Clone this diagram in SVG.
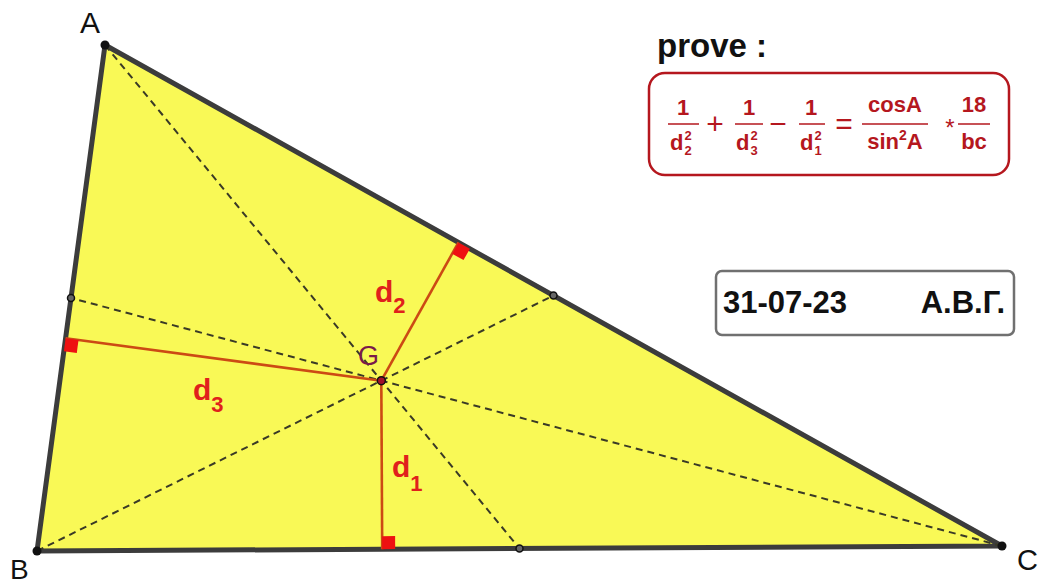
<svg xmlns="http://www.w3.org/2000/svg" width="1039" height="584" viewBox="0 0 1039 584">
<style>
.lbl{font-family:"Liberation Sans",Arial,sans-serif;fill:#111}
.f{font-family:"Liberation Sans",Arial,sans-serif;font-weight:bold;fill:#b5171e;font-size:22px}
.fs{font-family:"Liberation Sans",Arial,sans-serif;font-weight:bold;fill:#b5171e;font-size:13px}
.dl{font-family:"Liberation Sans",Arial,sans-serif;font-weight:bold;fill:#e0201c}
.med{stroke:#3a3a26;stroke-width:2;stroke-dasharray:7 5;fill:none}
.perp{stroke:#cc4a14;stroke-width:2.6;fill:none}
.ra{fill:#ee1111}
.bar{stroke:#b5171e;stroke-width:1.5}
</style>
<rect width="1039" height="584" fill="#ffffff"/>
<g id="triangle">
<polygon points="105,45 37,551 1002,546" fill="#f9f956" stroke="#3c3c3c" stroke-width="5" stroke-linejoin="round"/>
</g>
<g id="connectors">
<line class="med" x1="105" y1="45" x2="519.5" y2="548.5"/>
<line class="med" x1="37" y1="551" x2="553.5" y2="295.5"/>
<line class="med" x1="1002" y1="546" x2="71" y2="298"/>
<line class="perp" x1="381.3" y1="380.7" x2="382.2" y2="549.2"/>
<line class="perp" x1="381.3" y1="380.7" x2="458.5" y2="242.4"/>
<line class="perp" x1="381.3" y1="380.7" x2="65.6" y2="338.3"/>
<polygon class="ra" points="382.2,549.2 395.2,549.1 395.1,536.1 382.1,536.2"/>
<polygon class="ra" points="458.5,242.4 469.9,248.7 463.5,260.1 452.2,253.8"/>
<polygon class="ra" points="65.6,338.3 63.9,351.2 76.8,352.9 78.5,340"/>
</g>
<g id="points">
<circle cx="105" cy="45" r="4.5" fill="#111"/>
<circle cx="37" cy="551" r="4.5" fill="#111"/>
<circle cx="1002" cy="546" r="4.5" fill="#111"/>
<circle cx="71" cy="298" r="3.5" fill="#666" stroke="#111" stroke-width="1.5"/>
<circle cx="519.5" cy="548.5" r="3.5" fill="#666" stroke="#111" stroke-width="1.5"/>
<circle cx="553.5" cy="295.5" r="3.5" fill="#666" stroke="#111" stroke-width="1.5"/>
<circle cx="381.3" cy="380.7" r="4" fill="#a0102a" stroke="#111" stroke-width="1.5"/>
</g>
<g id="vertex-labels">
<text class="lbl" x="80" y="33" font-size="30">A</text>
<text class="lbl" x="10" y="579" font-size="28">B</text>
<text class="lbl" x="1017" y="570" font-size="29">C</text>
<text x="358" y="365" font-family="Liberation Sans,Arial,sans-serif" font-size="27" fill="#7a1a4a">G</text>
</g>
<g id="d-labels">
<text class="dl" x="375" y="302" font-size="30">d<tspan font-size="22" dy="11">2</tspan></text>
<text class="dl" x="193" y="400" font-size="30">d<tspan font-size="22" dy="12">3</tspan></text>
<text class="dl" x="392" y="477" font-size="30">d<tspan font-size="22" dy="14">1</tspan></text>
</g>
<g id="prove">
<text class="lbl" x="657" y="57" font-size="33" font-weight="bold">prove :</text>
</g>
<g id="formula">
<rect x="649" y="73" width="360" height="102" rx="16" fill="#ffffff" stroke="#b5171e" stroke-width="2.5"/>
<text class="f" x="683" y="115" text-anchor="middle">1</text>
<line class="bar" x1="668" y1="124" x2="699" y2="124"/>
<text class="f" x="670" y="150">d</text>
<text class="fs" x="684.5" y="140">2</text>
<text class="fs" x="684.5" y="155">2</text>
<text x="715" y="134" text-anchor="middle" font-family="Liberation Sans,Arial,sans-serif" font-size="30" fill="#b5171e">+</text>
<text class="f" x="749" y="115" text-anchor="middle">1</text>
<line class="bar" x1="735" y1="124" x2="763" y2="124"/>
<text class="f" x="736" y="150">d</text>
<text class="fs" x="750.5" y="140">2</text>
<text class="fs" x="750.5" y="155">3</text>
<text x="778" y="134" text-anchor="middle" font-family="Liberation Sans,Arial,sans-serif" font-size="30" fill="#b5171e">−</text>
<text class="f" x="811" y="115" text-anchor="middle">1</text>
<line class="bar" x1="799" y1="124" x2="825" y2="124"/>
<text class="f" x="800" y="150">d</text>
<text class="fs" x="814.5" y="140">2</text>
<text class="fs" x="814.5" y="155">1</text>
<text x="844" y="134" text-anchor="middle" font-family="Liberation Sans,Arial,sans-serif" font-size="30" fill="#b5171e">=</text>
<text class="f" x="895" y="112" text-anchor="middle">cosA</text>
<line class="bar" x1="862" y1="124" x2="928" y2="124"/>
<text class="f" x="895" y="149" text-anchor="middle">sin<tspan font-size="14" dy="-9">2</tspan><tspan dy="9">A</tspan></text>
<text x="950" y="136" text-anchor="middle" font-family="Liberation Sans,Arial,sans-serif" font-size="24" fill="#b5171e">*</text>
<text class="f" x="974" y="112" text-anchor="middle">18</text>
<line class="bar" x1="958" y1="124" x2="990" y2="124"/>
<text class="f" x="974" y="149" text-anchor="middle">bc</text>
</g>
<g id="signature">
<rect x="716" y="271" width="298" height="64" rx="6" fill="#ffffff" stroke="#707070" stroke-width="2.5"/>
<text class="lbl" x="723" y="313" font-size="31" font-weight="bold">31-07-23</text>
<text class="lbl" x="1005" y="313" font-size="31" font-weight="bold" text-anchor="end">А.В.Г.</text>
</g>
</svg>
